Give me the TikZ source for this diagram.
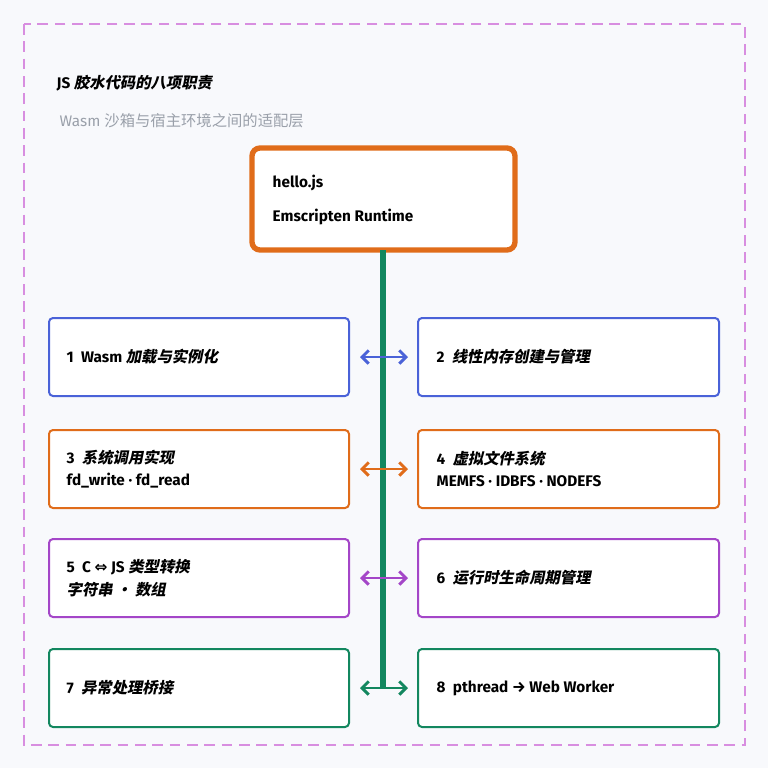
\documentclass[tikz,border=0pt]{standalone}
\usepackage{fontspec}
\setmainfont{Fira Sans}
\newfontfamily\cjki{Noto Sans CJK SC}[FakeSlant=0.2]
\newfontfamily\cjk{Noto Sans CJK SC}
\newfontfamily\dvs{DejaVu Sans}
\usetikzlibrary{arrows.meta}
\definecolor{bg}{HTML}{F8F9FC}
\definecolor{frm}{HTML}{D88EE0}
\definecolor{cb}{HTML}{4A62D8}
\definecolor{co}{HTML}{E06C1A}
\definecolor{cp}{HTML}{A446C8}
\definecolor{cg}{HTML}{13875F}
\definecolor{gr}{HTML}{9AA0AA}
\newcommand{\ci}[1]{{\cjki #1}}
\begin{document}
\begin{tikzpicture}[x=0.75pt,y=-0.75pt,
  box/.style={draw=#1,line width=1.5pt,rounded corners=3pt,fill=white},
  lbl/.style={anchor=west,font=\bfseries\fontsize{11.5}{17}\selectfont,align=left},
  arr/.style={draw=#1,line width=2.2pt,{Straight Barb[length=5pt,width=10pt,line width=2.2pt]}-{Straight Barb[length=5pt,width=10pt,line width=2.2pt]}}]
\fill[bg] (0,0) rectangle (768,768);
\useasboundingbox (0,0) rectangle (768,768);
\draw[frm,line width=1.8pt,dash pattern=on 8pt off 5pt] (24,24) rectangle (745,745);
\node[lbl] (t) at (52,83) {JS \ci{胶水代码的八项职责}};
\node[anchor=west,text=gr,font=\fontsize{11.5}{14}\selectfont] (s) at (55,121) {Wasm {\cjk 沙箱与宿主环境之间的适配层}};
\draw[co,line width=4pt,rounded corners=6pt,fill=white] (252,148) rectangle (515,250);
\node[lbl] (top) at (268,200) {hello.js\\[8pt]Emscripten Runtime};
\coordinate (tb) at (383,250);
\coordinate (tend) at (383,688);
\draw[cb,line width=1pt] (383,290) -- (383,357);
\draw[cg,line width=4pt] (tb) -- (tend);
\foreach \c/\y/\l/\r [count=\i] in {
 cb/357/{1\ \ Wasm \ci{加载与实例化}}/{2\ \ \ci{线性内存创建与管理}},
 co/469/{3\ \ \ci{系统调用实现}\\fd\_write · fd\_read}/{4\ \ \ci{虚拟文件系统}\\MEMFS · IDBFS · NODEFS},
 cp/578/{5\ \ C {\dvs ⇔} JS \ci{类型转换}\\\ci{字符串 · 数组}}/{6\ \ \ci{运行时生命周期管理}},
 cg/688/{7\ \ \ci{异常处理桥接}}/{8\ \ pthread → Web Worker}}{
  \draw[box=\c] (49,\y-39) rectangle (349,\y+39);
  \draw[box=\c] (418,\y-39) rectangle (719,\y+39);
  \node[lbl] (L\i) at (62,\y) {\l};
  \node[lbl] (R\i) at (432,\y) {\r};
  \coordinate (a\i) at (360,\y);
  \coordinate (b\i) at (408,\y);
  \draw[arr=\c] (a\i) -- (b\i);
}
\end{tikzpicture}
\end{document}
